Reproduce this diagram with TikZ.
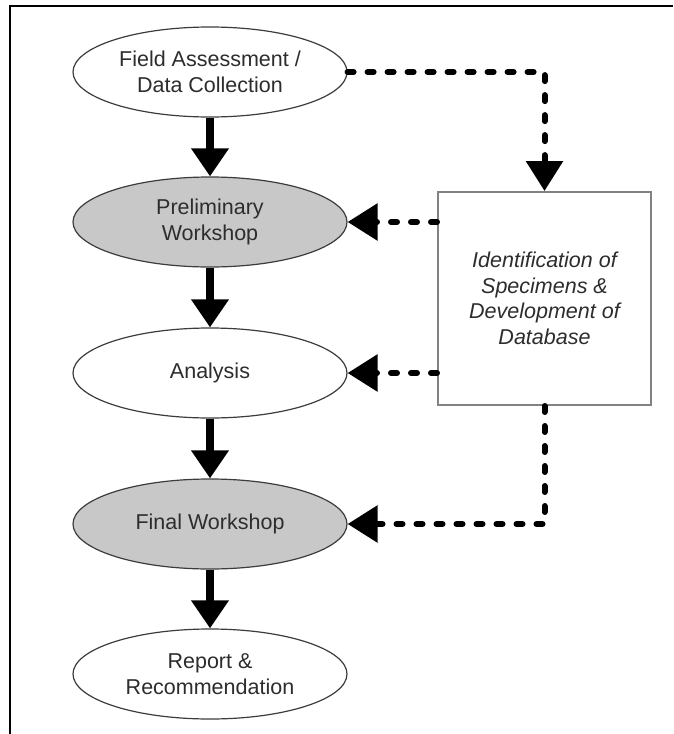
\documentclass[tikz,border=0pt]{standalone}
\usepackage{fontspec}
\setmainfont{Liberation Sans}
\usetikzlibrary{arrows.meta,shapes.geometric}
\definecolor{fillgray}{RGB}{200,200,200}
\definecolor{txtgray}{RGB}{45,45,45}
\definecolor{edgegray}{RGB}{60,60,60}
\definecolor{boxgray}{RGB}{130,130,130}
\tikzset{
  stage/.style={ellipse, draw=edgegray, line width=1.2pt, minimum width=274pt, minimum height=90pt,
    inner sep=0pt, align=center, text=txtgray, font=\fontsize{21.5}{26}\selectfont},
  shaded/.style={stage, fill=fillgray},
  plain/.style={stage, fill=white},
  infobox/.style={rectangle, draw=boxgray, line width=2pt, minimum width=213pt, minimum height=213pt,
    inner sep=0pt, align=center, text=txtgray, font=\fontsize{21.5}{25.5}\selectfont\itshape},
  flow/.style={line width=8pt, -{Triangle[width=36pt,length=28pt]}},
  feed/.style={line width=6pt, line cap=round, dash pattern=on 6pt off 14pt, -{Triangle[width=36pt,length=30pt]}},
}
\begin{document}
\begin{tikzpicture}[x=1pt,y=-1pt]
\useasboundingbox (0,0) rectangle (673,734);
\fill[white] (0,0) rectangle (673,734);
\draw[line width=2pt] (10,734) -- (10,5.5) -- (673,5.5);

\node[plain]  (e1) at (210,72)  {Field Assessment /\\Data Collection};
\node[shaded] (e2) at (210,222) {Preliminary\\Workshop};
\node[plain]  (e3) at (210,373) {Analysis};
\node[shaded] (e4) at (210,524) {Final Workshop};
\node[plain]  (e5) at (210,674) {Report \&\\Recommendation};
\node[infobox] (box) at (544.5,298.5) {Identification of\\Specimens \&\\Development of\\Database};

\draw[flow] (e1.south) -- (e2.north);
\draw[flow] (e2.south) -- (e3.north);
\draw[flow] (e3.south) -- (e4.north);
\draw[flow] (e4.south) -- (e5.north);

\draw[feed] (e1.east) -| (box.north);
\draw[feed] (box.west |- e2.east) -- (e2.east);
\draw[feed] (box.west |- e3.east) -- (e3.east);
\draw[feed] (box.south) |- (e4.east);
\end{tikzpicture}
\end{document}
